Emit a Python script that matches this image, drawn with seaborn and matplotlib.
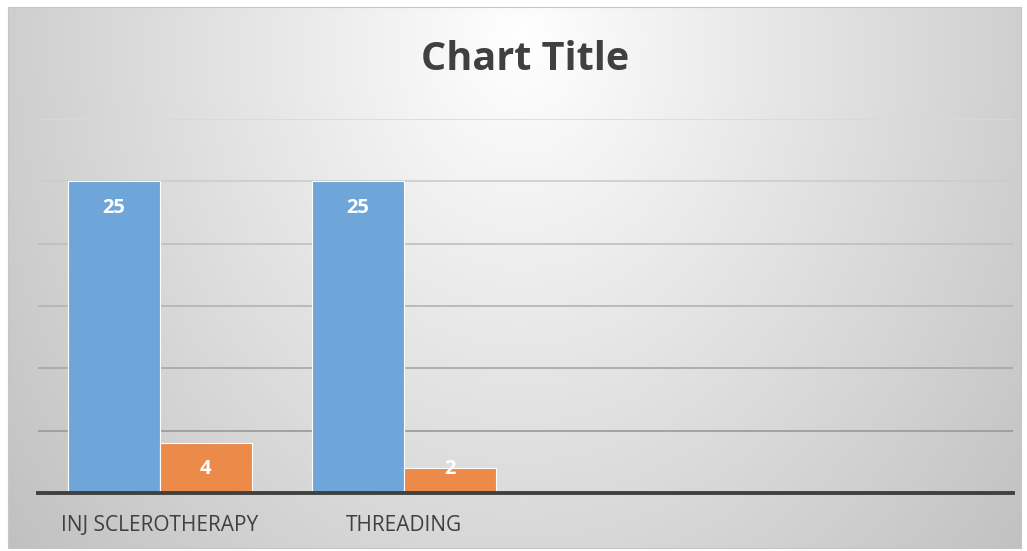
import numpy as np
import pandas as pd
import matplotlib
matplotlib.use("Agg")
import matplotlib.pyplot as plt
import seaborn as sns

categories = ["INJ SCLEROTHERAPY", "THREADING"]
extra_slots = ["cat3", "cat4"]
series_names = ["Series1", "Series2"]
series1 = [25, 25]
series2 = [4, 2]
colors = ["#6FA6D9", "#EB8A49"]

sns.set_theme(style="white")
plt.rcParams["font.family"] = ["Open Sans", "DejaVu Sans"]

df = pd.DataFrame({
    "category": categories * 2,
    "series": [series_names[0]] * len(categories) + [series_names[1]] * len(categories),
    "value": series1 + series2,
})

W, H = 1027, 551
fig = plt.figure(figsize=(W / 100, H / 100), dpi=100, facecolor="white")

# background: chart box with radial gradient
bx0, by0, bx1, by1 = 8, 7, 1021, 548
bg = fig.add_axes([0, 0, 1, 1], zorder=-10)
yy, xx = np.mgrid[by0:by1, bx0:bx1]
cx, cy = 520, 40
d = np.sqrt(((xx - cx) / 590.0) ** 2 + ((yy - cy) / 720.0) ** 2)
d = np.clip(d, 0, 1.2)
val = 1.0 - 0.22 * d
img = np.dstack([val, val, val])
bg.imshow(img, extent=[bx0, bx1, by1, by0], aspect="auto", interpolation="bilinear")
bg.set_xlim(0, W)
bg.set_ylim(H, 0)
bg.axis("off")
bg.plot([bx0, bx1, bx1, bx0, bx0], [by0, by0, by1, by1, by0], color="#C6C6C6", lw=0.8)

ax = fig.add_axes([38 / W, 58 / H, 975 / W, 374 / H])
ax.patch.set_alpha(0)
order = categories + extra_slots
sns.barplot(data=df, x="category", y="value", hue="series", order=order,
            hue_order=series_names, palette=colors, width=0.754, gap=0,
            edgecolor="white", linewidth=0.8, saturation=1, legend=False, ax=ax)

ax.set_xlim(-0.5, 3.5)
ax.set_ylim(0, 30)
ticks = np.arange(5, 31, 5)
for t in ticks:
    frac = t / 30.0
    g = 0.55 + 0.30 * frac
    ax.axhline(t, color=(g, g, g), lw=1.2, zorder=0)
ax.set_yticks([])
ax.tick_params(axis="x", bottom=False, pad=10)
ax.set_xticks(range(len(order)))
ax.set_xticklabels(categories + [""] * len(extra_slots), fontsize=15, color="#404040")
ax.set_xlabel("")
ax.set_ylabel("")
for s in ["top", "right", "left"]:
    ax.spines[s].set_visible(False)
ax.spines["bottom"].set_color("#404040")
ax.spines["bottom"].set_linewidth(2.8)
ax.spines["bottom"].set_zorder(5)

for cont in ax.containers:
    for bar in cont:
        h = bar.get_height()
        if np.isnan(h) or h == 0:
            continue
        y = max(h - 2.1, 1.9)
        ax.text(bar.get_x() + bar.get_width() / 2, y, f"{int(h)}", ha="center", va="center",
                color="white", fontweight="bold", fontsize=14.5)

fig.text(525 / W, 1 - 60 / H, "Chart Title", ha="center", va="center", fontsize=28.5,
         fontweight="bold", color="#404040")

fig.savefig("out.png", dpi=100, facecolor="white")
